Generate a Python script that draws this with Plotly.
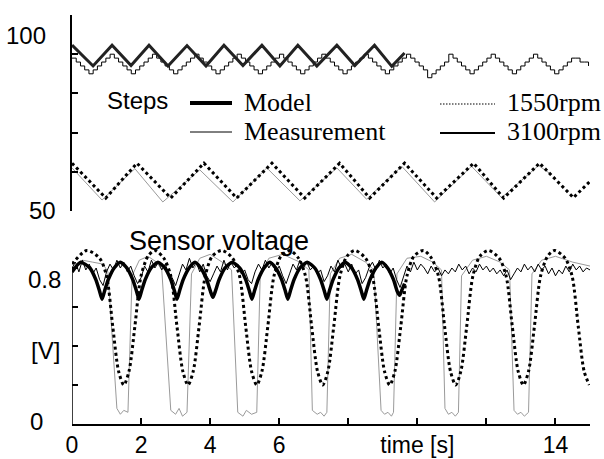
import numpy as np
import plotly.graph_objects as go

# ---------------- data ----------------
# Steps, 3100 rpm, model (zigzag vertices)
steps_3100_model_t = [0.0, 0.61, 1.16, 1.71, 2.23, 2.78, 3.33, 3.88, 4.40, 4.95,
                      5.50, 6.02, 6.54, 7.09, 7.67, 8.19, 8.76, 9.26, 9.63]
steps_3100_model_v = [92.3, 87.0, 92.3, 87.1, 92.3, 87.0, 92.2, 87.0, 92.3, 87.1,
                      92.3, 87.0, 92.3, 87.0, 92.3, 87.1, 92.3, 86.9, 90.3]

# Steps, 3100 rpm, measurement (stepper staircase, one value per step)
steps_3100_meas_dt = 0.1226
steps_3100_meas_v = [
    89, 88, 87, 86, 85, 86, 87, 88, 89, 90,
    89, 88, 87, 86, 85, 86, 87, 88, 89, 90,
    89, 88, 87, 86, 85, 86, 87, 88, 89, 90,
    89, 88, 87, 86, 85, 86, 87, 88, 89, 90,
    89, 88, 87, 86, 85, 86, 87, 88, 89, 90,
    89, 88, 87, 86, 85, 86, 87, 88, 89, 90,
    89, 88, 87, 86, 85, 86, 87, 88, 89, 90,
    89, 88, 87, 86, 85, 86, 87, 88, 89, 90,
    89, 88, 87, 86, 84, 85, 86, 87, 88, 90,
    89, 88, 87, 86, 85, 86, 87, 88, 89, 90,
    89, 88, 87, 86, 85, 86, 87, 88, 89, 90,
    89, 88, 87, 86, 85, 86, 87, 88, 89, 89,
    88, 88, 87]

# Steps, 1550 rpm, model
steps_1550_model_t = [0.0, 0.98, 1.88, 2.86, 3.82, 4.77, 5.79, 6.74, 7.75, 8.62,
                      9.63, 10.56, 11.63, 12.50, 13.54, 14.52, 14.98]
steps_1550_model_v = [62.2, 53.3, 62.2, 53.3, 62.2, 53.3, 62.2, 53.3, 62.2, 53.3,
                      62.2, 53.3, 62.2, 53.3, 62.2, 53.4, 57.4]

# Steps, 1550 rpm, measurement
steps_1550_meas_t = [0.0, 0.87, 1.82, 2.63, 3.70, 4.66, 5.64, 6.60, 7.67, 8.53,
                     9.55, 10.50, 11.57, 12.44, 13.51, 13.85]
steps_1550_meas_v = [61.0, 52.8, 60.8, 52.3, 60.5, 52.3, 61.0, 52.6, 61.0, 53.0,
                     61.4, 52.3, 61.4, 53.4, 61.6, 59.5]

# Sensor voltage, 1550 rpm, model
volt_1550_model_t = [0.0, 0.43, 0.80, 1.00, 1.18, 1.35, 1.50, 1.65, 1.82, 2.00, 2.20, 2.40,
                     2.66, 2.86, 3.04, 3.21, 3.36, 3.51, 3.68, 3.86, 4.06, 4.34,
                     4.65, 4.85, 5.03, 5.20, 5.35, 5.50, 5.67, 5.85, 6.05, 6.31,
                     6.56, 6.76, 6.94, 7.11, 7.26, 7.41, 7.58, 7.76, 7.96, 8.19,
                     8.50, 8.70, 8.88, 9.05, 9.20, 9.35, 9.52, 9.70, 9.90, 10.18,
                     10.41, 10.61, 10.79, 10.96, 11.11, 11.26, 11.43, 11.61, 11.81, 12.06,
                     12.37, 12.57, 12.75, 12.92, 13.07, 13.22, 13.39, 13.57, 13.77, 13.97,
                     14.28, 14.48, 14.66, 14.83, 14.98]
volt_1550_model_v = [0.82, 0.89, 0.85, 0.76, 0.50, 0.27, 0.20, 0.27, 0.50, 0.76, 0.86, 0.89,
                     0.85, 0.76, 0.50, 0.27, 0.20, 0.27, 0.50, 0.76, 0.86, 0.89,
                     0.85, 0.76, 0.50, 0.27, 0.20, 0.27, 0.50, 0.76, 0.86, 0.89,
                     0.85, 0.76, 0.50, 0.27, 0.20, 0.27, 0.50, 0.76, 0.86, 0.89,
                     0.85, 0.76, 0.50, 0.27, 0.20, 0.27, 0.50, 0.76, 0.86, 0.89,
                     0.85, 0.76, 0.50, 0.27, 0.20, 0.27, 0.50, 0.76, 0.86, 0.89,
                     0.85, 0.76, 0.50, 0.27, 0.20, 0.27, 0.50, 0.76, 0.86, 0.89,
                     0.85, 0.76, 0.50, 0.27, 0.20]

# Sensor voltage, 1550 rpm, measurement
volt_1550_meas_t = [0.0, 0.3, 0.6, 0.9, 1.04, 1.30, 1.40, 1.50, 1.62, 1.74,
                    1.95, 2.2, 2.45, 2.60, 2.86, 3.0, 3.1, 3.2, 3.33, 3.46,
                    3.7, 4.0, 4.35, 4.62, 4.80, 4.95, 5.05, 5.2, 5.35, 5.45,
                    5.7, 6.1, 6.6, 6.86, 6.96, 7.1, 7.2, 7.3, 7.38, 7.48,
                    7.75, 8.1, 8.5, 8.74, 8.95, 9.05, 9.15, 9.25, 9.31, 9.41,
                    9.7, 10.1, 10.45, 10.70, 10.80, 10.9, 11.0, 11.1, 11.19, 11.28,
                    11.6, 12.0, 12.4, 12.67, 12.80, 12.9, 13.0, 13.1, 13.22, 13.32,
                    13.6, 14.0, 14.5, 15.0]
volt_1550_meas_v = [0.80, 0.84, 0.83, 0.82, 0.78, 0.08, 0.05, 0.07, 0.06, 0.76,
                    0.84, 0.86, 0.83, 0.79, 0.07, 0.05, 0.08, 0.04, 0.06, 0.77,
                    0.85, 0.87, 0.83, 0.79, 0.06, 0.04, 0.07, 0.05, 0.06, 0.76,
                    0.85, 0.87, 0.83, 0.79, 0.07, 0.05, 0.06, 0.04, 0.06, 0.77,
                    0.85, 0.87, 0.83, 0.79, 0.07, 0.05, 0.06, 0.04, 0.06, 0.77,
                    0.85, 0.86, 0.83, 0.79, 0.08, 0.05, 0.06, 0.04, 0.06, 0.76,
                    0.84, 0.86, 0.83, 0.79, 0.07, 0.05, 0.06, 0.04, 0.06, 0.77,
                    0.84, 0.86, 0.83, 0.81]

# Sensor voltage, 3100 rpm, model
volt_3100_model_t = [0.0, 0.25, 0.52, 0.69, 0.80, 0.87, 0.94, 1.05, 1.22, 1.40,
                     1.59, 1.76, 1.87, 1.94, 2.01, 2.12, 2.29, 2.49,
                     2.69, 2.86, 2.97, 3.04, 3.11, 3.22, 3.39, 3.56,
                     3.73, 3.90, 4.01, 4.08, 4.15, 4.26, 4.43, 4.64,
                     4.86, 5.03, 5.14, 5.21, 5.28, 5.39, 5.56, 5.73,
                     5.90, 6.07, 6.18, 6.25, 6.32, 6.43, 6.60, 6.81,
                     7.03, 7.20, 7.31, 7.38, 7.45, 7.56, 7.73, 7.91,
                     8.10, 8.27, 8.38, 8.45, 8.52, 8.63, 8.80, 8.97,
                     9.14, 9.31, 9.42, 9.49, 9.56, 9.63]
volt_3100_model_v = [0.78, 0.83, 0.80, 0.74, 0.68, 0.64, 0.68, 0.74, 0.80, 0.83,
                     0.80, 0.74, 0.68, 0.64, 0.68, 0.74, 0.80, 0.83,
                     0.80, 0.74, 0.68, 0.64, 0.68, 0.74, 0.80, 0.83,
                     0.80, 0.74, 0.68, 0.65, 0.68, 0.74, 0.80, 0.83,
                     0.80, 0.74, 0.68, 0.64, 0.68, 0.74, 0.80, 0.83,
                     0.80, 0.74, 0.68, 0.64, 0.68, 0.74, 0.80, 0.83,
                     0.80, 0.74, 0.68, 0.64, 0.68, 0.74, 0.80, 0.83,
                     0.80, 0.74, 0.68, 0.64, 0.68, 0.74, 0.80, 0.83,
                     0.80, 0.74, 0.68, 0.66, 0.69, 0.72]

# Sensor voltage, 3100 rpm, measurement (sampled every 0.1 s)
volt_3100_meas_dt = 0.1
volt_3100_meas_v = [
    0.80, 0.83, 0.78, 0.84, 0.79, 0.82, 0.77, 0.80, 0.74, 0.71,
    0.78, 0.82, 0.79, 0.84, 0.80, 0.83, 0.78, 0.81, 0.76, 0.72,
    0.75, 0.81, 0.78, 0.84, 0.80, 0.83, 0.79, 0.82, 0.77, 0.75,
    0.71, 0.76, 0.82, 0.79, 0.85, 0.80, 0.83, 0.78, 0.82, 0.76,
    0.73, 0.77, 0.81, 0.78, 0.84, 0.79, 0.83, 0.80, 0.82, 0.77,
    0.79, 0.74, 0.72, 0.78, 0.82, 0.79, 0.84, 0.80, 0.83, 0.78,
    0.81, 0.76, 0.72, 0.77, 0.82, 0.79, 0.84, 0.80, 0.83, 0.79,
    0.81, 0.77, 0.79, 0.73, 0.76, 0.81, 0.78, 0.84, 0.80, 0.82,
    0.78, 0.82, 0.77, 0.79, 0.72, 0.75, 0.80, 0.83, 0.79, 0.84,
    0.80, 0.82, 0.77, 0.80, 0.74, 0.70, 0.76, 0.81, 0.78, 0.83,
    0.79, 0.82, 0.80, 0.77, 0.81, 0.78, 0.80, 0.76, 0.79, 0.77,
    0.80, 0.78, 0.82, 0.79, 0.81, 0.77, 0.80, 0.78, 0.82, 0.79,
    0.81, 0.78, 0.80, 0.77, 0.79, 0.76, 0.79, 0.74, 0.77, 0.80,
    0.78, 0.82, 0.79, 0.81, 0.78, 0.82, 0.79, 0.81, 0.77, 0.80,
    0.76, 0.79, 0.77, 0.81, 0.78, 0.82, 0.79, 0.81, 0.78, 0.80,
    0.79]

# axis ticks / labels
x_tick_vals = [0, 2, 4, 6, 8, 10, 12, 14]
x_tick_text = ["0", "2", "4", "6", "", "time [s]", "", "14"]
steps_tick_vals = [50, 60, 70, 80, 90, 100]
volt_tick_vals = [0, 0.2, 0.4, 0.6, 0.8]
left_labels = ["100", "50", "0.8", "[V]", "0"]

# ---------------- layout helpers ----------------
W, H = 604, 459
ML, MR, MT, MB = 72, 14, 10, 35
PW = W - ML - MR
PH = H - MT - MB


def px(x):
    return (x - ML) / PW


def py(y):
    return (H - MB - y) / PH


SANS = "Liberation Sans, Arial, sans-serif"
SERIF = "Liberation Serif, Times New Roman, serif"

steps_3100_meas_t = np.arange(len(steps_3100_meas_v)) * steps_3100_meas_dt
volt_3100_meas_t = np.arange(len(volt_3100_meas_v)) * volt_3100_meas_dt

fig = go.Figure()

# --- bottom panel: sensor voltage ---
fig.add_trace(go.Scatter(x=volt_1550_meas_t, y=volt_1550_meas_v, xaxis="x", yaxis="y2",
                         mode="lines", line=dict(color="#9a9a9a", width=1)))
fig.add_trace(go.Scatter(x=volt_1550_model_t, y=volt_1550_model_v, xaxis="x", yaxis="y2",
                         mode="lines", line=dict(color="black", width=3, dash="3px,3px",
                                                  shape="spline", smoothing=0.8)))
fig.add_trace(go.Scatter(x=volt_3100_meas_t, y=volt_3100_meas_v, xaxis="x", yaxis="y2",
                         mode="lines", line=dict(color="black", width=1)))
fig.add_trace(go.Scatter(x=volt_3100_model_t, y=volt_3100_model_v, xaxis="x", yaxis="y2",
                         mode="lines", line=dict(color="black", width=3.5,
                                                  shape="spline", smoothing=0.6)))

# --- top panel: steps ---
fig.add_trace(go.Scatter(x=steps_1550_meas_t, y=steps_1550_meas_v, xaxis="x", yaxis="y",
                         mode="lines", line=dict(color="#9a9a9a", width=1)))
fig.add_trace(go.Scatter(x=steps_1550_model_t, y=steps_1550_model_v, xaxis="x", yaxis="y",
                         mode="lines", line=dict(color="black", width=3, dash="3px,3px")))
fig.add_trace(go.Scatter(x=steps_3100_meas_t, y=steps_3100_meas_v, xaxis="x", yaxis="y",
                         mode="lines", line=dict(color="black", width=1, shape="hv")))
fig.add_trace(go.Scatter(x=steps_3100_model_t, y=steps_3100_model_v, xaxis="x", yaxis="y",
                         mode="lines", line=dict(color="#222222", width=3)))

# --- decorations ---
shapes = [
    # bottom y axis line (only up to 0.8)
    dict(type="line", xref="x", yref="y2", x0=0, x1=0, y0=volt_tick_vals[0], y1=volt_tick_vals[-1],
         line=dict(color="black", width=1.5)),
    # legend samples
    dict(type="line", xref="paper", yref="paper", x0=px(190), x1=px(232), y0=py(103), y1=py(103),
         line=dict(color="black", width=4)),
    dict(type="line", xref="paper", yref="paper", x0=px(190), x1=px(232), y0=py(132), y1=py(132),
         line=dict(color="black", width=1)),
    dict(type="line", xref="paper", yref="paper", x0=px(440), x1=px(495), y0=py(104), y1=py(104),
         line=dict(color="black", width=1.2, dash="1.5px,1.5px")),
    dict(type="line", xref="paper", yref="paper", x0=px(440), x1=px(495), y0=py(133), y1=py(133),
         line=dict(color="black", width=2)),
]

annotations = [
    dict(text="Steps", x=px(137), y=py(101), xanchor="center", yanchor="middle",
         font=dict(family=SANS, size=24, color="black")),
    dict(text="Model", x=px(242), y=py(102), xanchor="left", yanchor="middle",
         font=dict(family=SERIF, size=26, color="black")),
    dict(text="Measurement", x=px(242), y=py(131), xanchor="left", yanchor="middle",
         font=dict(family=SERIF, size=26, color="black")),
    dict(text="1550rpm", x=px(505), y=py(102), xanchor="left", yanchor="middle",
         font=dict(family=SERIF, size=26, color="black")),
    dict(text="3100rpm", x=px(505), y=py(131), xanchor="left", yanchor="middle",
         font=dict(family=SERIF, size=26, color="black")),
    dict(text="Sensor voltage", x=px(219), y=py(241), xanchor="center", yanchor="middle",
         font=dict(family=SANS, size=27, color="black")),
]
left_pos = [(48, 35), (58, 210), (63, 279), (62, 350), (45, 421)]
for lab, (xr, yc) in zip(left_labels, left_pos):
    annotations.append(dict(text=lab, x=px(xr), y=py(yc), xanchor="right", yanchor="middle",
                            font=dict(family=SANS, size=24, color="black")))
for a in annotations:
    a.update(xref="paper", yref="paper", showarrow=False)

fig.update_layout(
    width=W, height=H,
    margin=dict(l=ML, r=MR, t=MT, b=MB, autoexpand=False),
    paper_bgcolor="white", plot_bgcolor="white",
    showlegend=False,
    xaxis=dict(domain=[0, 1], range=[0, 15], anchor="y2", automargin=False,
               showline=True, linecolor="black", linewidth=1.5,
               ticks="inside", ticklen=6, tickwidth=1.5, tickcolor="black",
               tickvals=x_tick_vals, ticktext=x_tick_text,
               tickfont=dict(family=SANS, size=23, color="black"),
               ticklabelstandoff=0,
               showgrid=False, zeroline=False),
    yaxis=dict(domain=[py(211), py(15)], range=[50, 100], anchor="x", automargin=False,
               showline=True, linecolor="black", linewidth=1.5,
               ticks="inside", ticklen=6, tickwidth=1.5, tickcolor="black",
               tickvals=steps_tick_vals, showticklabels=False,
               showgrid=False, zeroline=False),
    yaxis2=dict(domain=[0, py(H - MB - 0.95 * 195)], range=[0, 0.95], anchor="x",
                automargin=False, showline=False,
                ticks="inside", ticklen=6, tickwidth=1.5, tickcolor="black",
                tickvals=volt_tick_vals, showticklabels=False,
                showgrid=False, zeroline=False),
    shapes=shapes,
    annotations=annotations,
)

fig.write_html("out.html", config={"displayModeBar": False},
               post_script="document.body.style.margin='0';document.body.style.padding='0';")
